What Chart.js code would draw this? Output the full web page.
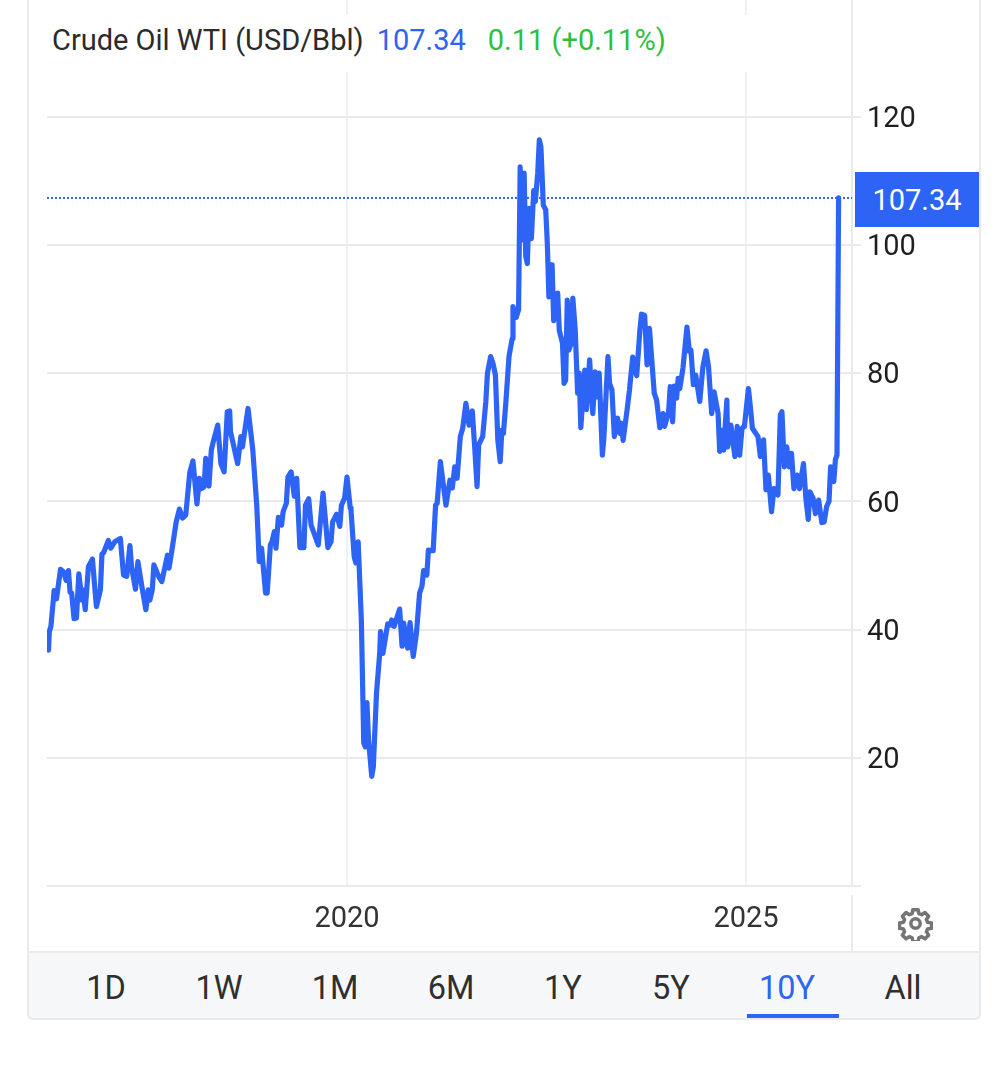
<!DOCTYPE html>
<html>
<head>
<meta charset="utf-8">
<script src="https://cdn.jsdelivr.net/npm/chart.js@4"></script>
<style>
  html, body { margin: 0; padding: 0; background: #fff; }
  body { position: relative; width: 1008px; height: 1090px; overflow: hidden; font-family: Roboto, sans-serif; }
  #chart { position: absolute; left: 0; top: -30px; }
  .card-l { position: absolute; left: 27px; top: 0; width: 2px; height: 952px; background: #e9eaec; }
  .card-r { position: absolute; left: 979px; top: 0; width: 2px; height: 952px; background: #e9eaec; }
  .header { position: absolute; left: 40px; top: 15px; width: 710px; height: 57px; padding-left: 12px; box-sizing: border-box; line-height: 50px; font-size: 29px; color: #2b2b2b; background: #fff; white-space: nowrap; }
  .header .price { color: #2e64f6; margin-left: 13px; }
  .header .chg { color: #2fbf3f; margin-left: 22px; }
  .last-box { position: absolute; left: 855px; top: 172px; width: 124px; height: 55px; line-height: 56px; background: #2e64f6; color: #fff; font-size: 29px; text-align: center; }
  .axis-stub { position: absolute; left: 851px; top: 895px; width: 2px; height: 57px; background: #e9eaec; }
  .gear { position: absolute; left: 898px; top: 906px; }
  .tabs { position: absolute; left: 27px; top: 951px; width: 950px; height: 65px; background: #f6f7f9; border: 2px solid #e9eaec; border-radius: 0 0 6px 6px; }
  .tab { position: absolute; top: 15px; line-height: 40px; font-size: 32.5px; color: #2f2f2f; transform: translateX(-50%); white-space: nowrap; }
  .tab.on { color: #2e64f6; }
  .tab-bar { position: absolute; left: 718px; top: 61px; width: 92px; height: 4px; background: #2e64f6; }
</style>
</head>
<body>
<canvas id="chart" width="1008" height="980"></canvas>
<div class="card-l"></div>
<div class="card-r"></div>
<div class="header">Crude Oil WTI (USD/Bbl)<span class="price">107.34</span><span class="chg">0.11 (+0.11%)</span></div>
<div class="last-box">107.34</div>
<div class="axis-stub"></div>
<svg class="gear" width="35" height="35" viewBox="0 0 24 24" fill="none" stroke="#757575" stroke-width="2.4" stroke-linejoin="round">
  <circle cx="12" cy="12" r="3.2"></circle>
  <path d="M10.2 2.5h3.6l.5 2.7 1.9.8 2.3-1.5 2.5 2.5-1.5 2.3.8 1.9 2.7.5v3.6l-2.7.5-.8 1.9 1.5 2.3-2.5 2.5-2.3-1.5-1.9.8-.5 2.7h-3.6l-.5-2.7-1.9-.8-2.3 1.5-2.5-2.5 1.5-2.3-.8-1.9-2.7-.5v-3.6l2.7-.5.8-1.9-1.5-2.3 2.5-2.5 2.3 1.5 1.9-.8z"></path>
</svg>
<div class="tabs">
  <div class="tab" style="left:77px">1D</div>
  <div class="tab" style="left:190px">1W</div>
  <div class="tab" style="left:306px">1M</div>
  <div class="tab" style="left:422px">6M</div>
  <div class="tab" style="left:534px">1Y</div>
  <div class="tab" style="left:642px">5Y</div>
  <div class="tab on" style="left:758px">10Y</div>
  <div class="tab" style="left:874px">All</div>
  <div class="tab-bar"></div>
</div>
<script>
const years = [
  2016.26, 2016.27, 2016.29, 2016.32, 2016.33, 2016.36, 2016.41, 2016.45, 2016.48, 2016.51,
  2016.53, 2016.55, 2016.58, 2016.61, 2016.64, 2016.68, 2016.69, 2016.72, 2016.76, 2016.81,
  2016.86, 2016.91, 2016.93, 2016.95, 2017.01, 2017.04, 2017.09, 2017.16, 2017.20, 2017.24,
  2017.28, 2017.30, 2017.35, 2017.38, 2017.43, 2017.48, 2017.51, 2017.53, 2017.56, 2017.58,
  2017.64, 2017.68, 2017.75, 2017.77, 2017.80, 2017.86, 2017.90, 2017.94, 2017.98, 2018.03,
  2018.07, 2018.12, 2018.15, 2018.18, 2018.21, 2018.23, 2018.27, 2018.30, 2018.32, 2018.38,
  2018.42, 2018.46, 2018.50, 2018.53, 2018.54, 2018.63, 2018.67, 2018.69, 2018.76, 2018.82,
  2018.87, 2018.90, 2018.93, 2018.98, 2019.00, 2019.04, 2019.06, 2019.09, 2019.11, 2019.14,
  2019.18, 2019.20, 2019.24, 2019.26, 2019.30, 2019.34, 2019.37, 2019.41, 2019.46, 2019.48,
  2019.52, 2019.55, 2019.64, 2019.70, 2019.76, 2019.80, 2019.82, 2019.87, 2019.91, 2019.93,
  2019.97, 2020.00, 2020.04, 2020.05, 2020.09, 2020.11, 2020.14, 2020.18, 2020.21, 2020.23,
  2020.25, 2020.27, 2020.31, 2020.33, 2020.37, 2020.41, 2020.42, 2020.45, 2020.48, 2020.51,
  2020.55, 2020.56, 2020.59, 2020.66, 2020.69, 2020.71, 2020.76, 2020.79, 2020.83, 2020.87,
  2020.91, 2020.94, 2020.96, 2021.00, 2021.02, 2021.08, 2021.11, 2021.13, 2021.17, 2021.20,
  2021.24, 2021.29, 2021.32, 2021.35, 2021.38, 2021.42, 2021.45, 2021.49, 2021.53, 2021.57,
  2021.60, 2021.63, 2021.65, 2021.70, 2021.74, 2021.76, 2021.80, 2021.83, 2021.86, 2021.89,
  2021.92, 2021.94, 2021.96, 2021.99, 2022.03, 2022.07, 2022.08, 2022.12, 2022.15, 2022.17,
  2022.19, 2022.22, 2022.24, 2022.26, 2022.28, 2022.31, 2022.34, 2022.36, 2022.39, 2022.41,
  2022.43, 2022.46, 2022.49, 2022.51, 2022.53, 2022.55, 2022.57, 2022.59, 2022.64, 2022.66,
  2022.70, 2022.72, 2022.74, 2022.76, 2022.78, 2022.81, 2022.83, 2022.86, 2022.89, 2022.91,
  2022.93, 2022.98, 2023.00, 2023.04, 2023.08, 2023.11, 2023.13, 2023.16, 2023.20, 2023.22,
  2023.27, 2023.29, 2023.32, 2023.35, 2023.39, 2023.42, 2023.44, 2023.46, 2023.51, 2023.54,
  2023.58, 2023.63, 2023.67, 2023.69, 2023.73, 2023.76, 2023.79, 2023.81, 2023.85, 2023.88,
  2023.92, 2023.96, 2023.98, 2024.03, 2024.05, 2024.08, 2024.10, 2024.13, 2024.15, 2024.17,
  2024.21, 2024.26, 2024.29, 2024.31, 2024.34, 2024.37, 2024.42, 2024.46, 2024.50, 2024.53,
  2024.57, 2024.60, 2024.65, 2024.67, 2024.70, 2024.72, 2024.76, 2024.77, 2024.81, 2024.86,
  2024.89, 2024.92, 2024.95, 2024.98, 2025.03, 2025.05, 2025.08, 2025.15, 2025.18, 2025.22,
  2025.25, 2025.28, 2025.32, 2025.35, 2025.40, 2025.43, 2025.45, 2025.48, 2025.51, 2025.54,
  2025.57, 2025.60, 2025.64, 2025.67, 2025.72, 2025.75, 2025.78, 2025.80, 2025.84, 2025.87,
  2025.91, 2025.95, 2025.98, 2026.01, 2026.04, 2026.06, 2026.10, 2026.12, 2026.14, 2026.16
];

const prices = [
  36.8, 39.7, 40.5, 44.6, 46.1, 44.8, 49.4, 49.0, 47.7, 49.2,
  45.8, 45.7, 41.7, 41.8, 48.7, 44.6, 46.2, 43.1, 49.8, 51.0,
  43.6, 46.2, 51.8, 52.0, 53.9, 52.7, 53.7, 54.2, 48.5, 48.3,
  53.1, 49.8, 46.3, 50.6, 46.7, 43.1, 46.2, 44.6, 46.2, 50.1,
  48.3, 47.5, 51.6, 49.6, 51.9, 56.8, 58.8, 57.4, 57.9, 64.5,
  66.3, 59.6, 63.6, 62.0, 62.3, 66.7, 62.4, 68.0, 69.1, 71.9,
  65.9, 64.6, 74.0, 74.1, 70.9, 65.9, 70.1, 68.5, 74.5, 68.0,
  59.2, 50.6, 52.7, 45.7, 45.7, 53.2, 53.7, 55.3, 52.7, 57.5,
  56.3, 58.4, 59.7, 63.8, 64.6, 60.8, 63.6, 52.8, 52.8, 59.4,
  60.4, 56.3, 53.2, 61.3, 52.8, 53.7, 56.8, 58.0, 56.1, 59.4,
  60.5, 63.8, 59.0, 58.7, 51.4, 50.4, 53.7, 41.5, 22.3, 21.7,
  28.6, 22.8, 17.1, 18.6, 30.1, 36.3, 39.7, 36.3, 38.6, 40.9,
  40.7, 41.5, 40.5, 43.2, 37.4, 41.0, 37.1, 41.1, 35.8, 39.4,
  45.7, 46.8, 49.2, 48.5, 52.4, 52.3, 59.4, 59.7, 66.2, 63.3,
  59.4, 63.3, 62.1, 65.4, 63.6, 70.1, 71.4, 75.3, 71.9, 74.1,
  68.5, 62.3, 68.8, 70.1, 75.6, 80.0, 82.6, 81.5, 79.7, 69.6,
  66.2, 71.1, 70.6, 75.3, 82.6, 85.4, 90.4, 88.7, 89.9, 112.2,
  100.8, 111.2, 98.2, 97.1, 105.7, 101.0, 108.5, 106.8, 111.2, 116.4,
  115.3, 106.2, 105.5, 100.3, 91.9, 96.9, 96.9, 88.2, 92.5, 86.7,
  84.7, 78.4, 78.9, 91.4, 83.6, 84.7, 91.7, 86.7, 76.9, 80.0,
  71.5, 80.5, 74.3, 82.1, 73.7, 80.2, 76.3, 80.0, 67.2, 70.1,
  82.6, 78.4, 77.4, 70.1, 73.0, 70.6, 72.2, 69.5, 74.3, 77.4,
  82.5, 79.6, 86.7, 89.2, 89.0, 81.3, 87.0, 83.6, 76.9, 75.8,
  71.5, 73.7, 71.7, 74.0, 77.9, 72.4, 78.0, 76.1, 79.2, 77.6,
  80.8, 87.2, 83.4, 83.6, 78.2, 79.7, 75.6, 81.0, 83.5, 81.0,
  73.7, 77.1, 73.7, 67.8, 71.1, 68.0, 75.8, 68.5, 71.9, 67.0,
  71.7, 67.2, 71.4, 71.7, 77.6, 75.3, 71.4, 70.1, 67.0, 69.6,
  61.8, 64.1, 58.4, 62.0, 61.0, 73.5, 74.0, 65.4, 68.5, 65.4,
  67.5, 62.0, 64.1, 62.0, 65.9, 60.5, 57.2, 61.5, 60.5, 58.1,
  60.2, 56.7, 56.8, 59.2, 60.0, 65.4, 63.1, 66.5, 67.2, 107.34
];

const lastPrice = 107.34;
const yearTicks = [2020, 2025];
const priceTicks = [0, 20, 40, 60, 80, 100, 120];

const xMin = 2016.241;
const xMax = 2026.328;

const ctx = document.getElementById("chart").getContext("2d");
const oilChart = new Chart(ctx, {
  type: "line",
  data: {
    datasets: [
      {
        label: "Last",
        data: [
          { x: xMin, y: lastPrice },
          { x: xMax, y: lastPrice },
        ],
        borderColor: "#2e64f6",
        borderWidth: 2,
        borderDash: [2, 2],
        pointRadius: 0,
        order: 2,
      },
      {
        label: "Crude Oil WTI",
        data: years.map((yr, i) => ({ x: yr, y: prices[i] })),
        borderColor: "#2e64f6",
        borderWidth: 5.2,
        borderJoinStyle: "round",
        borderCapStyle: "round",
        pointRadius: 0,
        tension: 0,
        order: 1,
      },
    ],
  },
  options: {
    responsive: false,
    animation: false,
    layout: { padding: { left: 47, top: 0, right: 0, bottom: 0 } },
    plugins: { legend: { display: false }, tooltip: { enabled: false } },
    scales: {
      x: {
        type: "linear",
        min: xMin,
        max: xMax,
        afterBuildTicks: (s) => {
          s.ticks = yearTicks.map((v) => ({ value: v }));
        },
        afterFit: (s) => {
          s.height = 64;
        },
        ticks: {
          autoSkip: false,
          maxRotation: 0,
          padding: 16,
          color: "#333",
          font: { family: "Roboto", size: 29 },
          callback: (v) => String(v),
        },
        grid: { color: "#eef1f5", lineWidth: 2, drawTicks: false },
        border: { display: false },
      },
      y: {
        position: "right",
        min: 0,
        max: 139.25,
        afterBuildTicks: (s) => {
          s.ticks = priceTicks.map((v) => ({ value: v }));
        },
        afterFit: (s) => {
          s.width = 156;
        },
        ticks: {
          autoSkip: false,
          padding: 6,
          labelOffset: 3,
          color: "#1f1f1f",
          font: { family: "Roboto", size: 29 },
          callback: (v) => (v === 0 ? "" : String(v)),
        },
        grid: { color: "#e9eaec", lineWidth: 2, tickLength: 9 },
        border: { display: true, color: "#e9eaec", width: 2 },
      },
    },
  },
});
</script>
</body>
</html>
